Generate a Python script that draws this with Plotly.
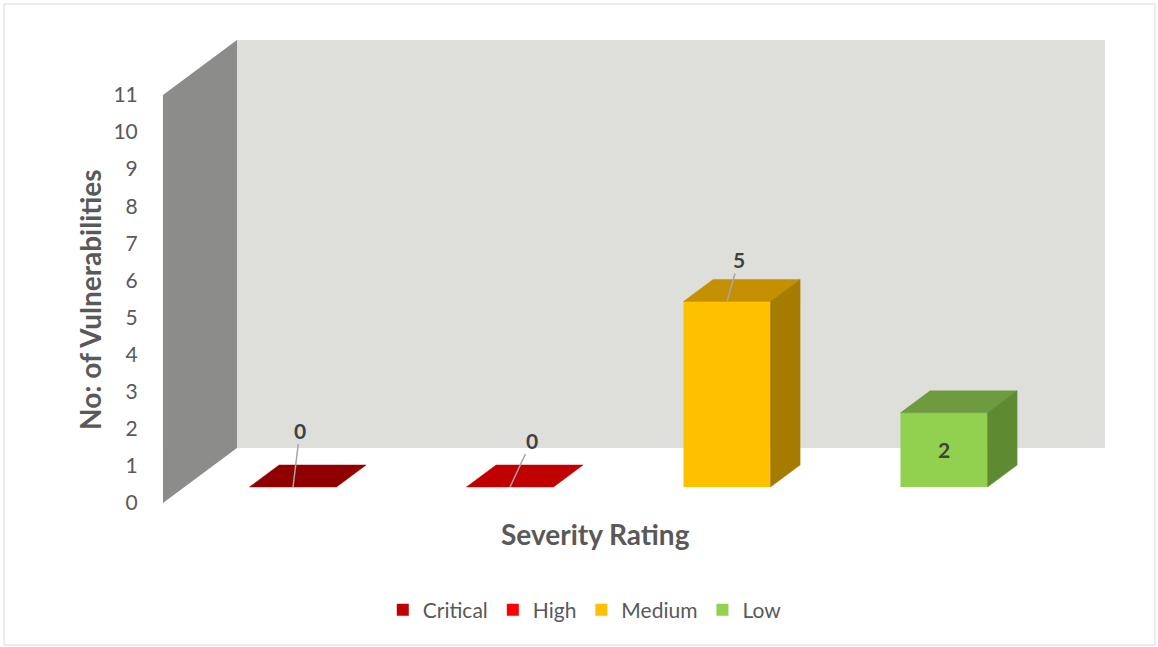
import plotly.graph_objects as go

# ---------------- data ----------------
categories = ["Critical", "High", "Medium", "Low"]
values = [0, 0, 5, 2]
front_colors = ["#C00000", "#FF0000", "#FFC000", "#92D050"]
top_colors = ["#900000", "#C00000", "#C49000", "#6E9B3D"]
side_colors = ["#6F0000", "#A00000", "#A67C00", "#5E8A32"]
y_ticks = list(range(0, 12))
y_max = 11
x_title = "Severity Rating"
y_title = "No: of Vulnerabilities"

# ---------------- geometry (oblique 3D projection) ----------------
W, H = 1158, 647
PX_PER_CAT = 217.0
PX_PER_UNIT = 37.1
X0_PX = 293.0          # pixel x of category 0 (bar front centre)
Y0_PX = 487.0          # pixel y of value 0 at bar front
DEPTH_DX = 74 / PX_PER_CAT   # x-units for full floor depth
DEPTH_DY = 55 / PX_PER_UNIT  # y-units for full floor depth
D_BAR = 16 / 55              # depth of bar front face
BAR_DEPTH = 0.4
BAR_W = 87 / PX_PER_CAT

FONT = "Lato, Calibri, sans-serif"

def proj(x, v, d):
    return x + (d - D_BAR) * DEPTH_DX, v + (d - D_BAR) * DEPTH_DY

xr = [-X0_PX / PX_PER_CAT, (W - X0_PX) / PX_PER_CAT]
yr = [-(H - Y0_PX) / PX_PER_UNIT, Y0_PX / PX_PER_UNIT]
tick_off = D_BAR * DEPTH_DY

def path(pts):
    return "M " + " L ".join(f"{x},{y}" for x, y in pts) + " Z"

fig = go.Figure()

# front faces (bars)
for i, (c, v) in enumerate(zip(categories, values)):
    fig.add_trace(go.Bar(x=[i], y=[v], width=BAR_W, name=c,
                         marker=dict(color=front_colors[i], line=dict(width=0)),
                         hoverinfo="skip"))

# top and side faces
for i, v in enumerate(values):
    l, r = i - BAR_W / 2, i + BAR_W / 2
    d0, d1 = D_BAR, D_BAR + BAR_DEPTH
    top = [proj(l, v, d0), proj(r, v, d0), proj(r, v, d1), proj(l, v, d1), proj(l, v, d0)]
    fig.add_trace(go.Scatter(x=[p[0] for p in top], y=[p[1] for p in top], mode="lines",
                             fill="toself", fillcolor=top_colors[i],
                             line=dict(width=0.5, color=top_colors[i]),
                             showlegend=False, hoverinfo="skip"))
    if v > 0:
        side = [proj(r, 0, d0), proj(r, v, d0), proj(r, v, d1), proj(r, 0, d1), proj(r, 0, d0)]
        fig.add_trace(go.Scatter(x=[p[0] for p in side], y=[p[1] for p in side], mode="lines",
                                 fill="toself", fillcolor=side_colors[i],
                                 line=dict(width=0.5, color=side_colors[i]),
                                 showlegend=False, hoverinfo="skip"))

# invisible trace carrying the value axis
fig.add_trace(go.Scatter(x=[None], y=[None], yaxis="y2", showlegend=False, hoverinfo="skip"))

# walls
xl, xrr = -0.5, len(categories) - 0.5
back = [proj(xl, 0, 1), proj(xrr, 0, 1), proj(xrr, y_max, 1), proj(xl, y_max, 1)]
side_wall = [proj(xl, 0, 0), proj(xl, 0, 1), proj(xl, y_max, 1), proj(xl, y_max, 0)]
shapes = [
    dict(type="path", xref="x", yref="y", path=path(back), fillcolor="#DEDFDA",
         line=dict(width=0), layer="below"),
    dict(type="path", xref="x", yref="y", path=path(side_wall), fillcolor="#8C8C8B",
         line=dict(width=0), layer="below"),
    dict(type="rect", xref="paper", yref="paper", x0=4 / W, x1=1155 / W, y0=2 / H, y1=1 - 4 / H,
         line=dict(color="#D9D9D9", width=1), fillcolor="rgba(0,0,0,0)", layer="below"),
]

# data labels
label_font = dict(family=FONT, size=21, color="#404040")
label_offsets = [(7, -57), (22, -47), (12, -42), None]
annotations = []
for i, v in enumerate(values):
    off = label_offsets[i]
    if off is None:
        annotations.append(dict(x=i, y=v / 2, xref="x", yref="y", text=f"<b>{v}</b>",
                                showarrow=False, font=label_font,
                                xanchor="center", yanchor="middle"))
    else:
        annotations.append(dict(x=i, y=v, xref="x", yref="y", text=f"<b>{v}</b>",
                                showarrow=True, arrowhead=0, arrowwidth=1.5, arrowcolor="#A6A6A6",
                                ax=off[0], ay=off[1], standoff=0, font=label_font))

title_font = dict(family=FONT, size=28, color="#595959")
annotations.append(dict(x=90 / W, y=1 - 300 / H, xref="paper", yref="paper",
                        xanchor="center", yanchor="middle",
                        text=f"<b>{y_title}</b>", textangle=-90, showarrow=False, font=title_font))
annotations.append(dict(x=595 / W, y=1 - 534 / H, xref="paper", yref="paper",
                        xanchor="center", yanchor="middle",
                        text=f"<b>{x_title}</b>", showarrow=False, font=title_font))

wall_x_px = X0_PX + (proj(xl, 0, 0)[0]) * PX_PER_CAT

fig.update_layout(
    width=W, height=H,
    margin=dict(l=0, r=0, t=0, b=0),
    paper_bgcolor="white", plot_bgcolor="white",
    barmode="overlay",
    shapes=shapes,
    annotations=annotations,
    xaxis=dict(range=xr, visible=False, fixedrange=True),
    yaxis=dict(range=yr, visible=False, fixedrange=True),
    yaxis2=dict(range=[yr[0] + tick_off, yr[1] + tick_off], overlaying="y", anchor="free",
                position=wall_x_px / W, side="left", tickvals=y_ticks,
                ticks="outside", ticklen=21, tickcolor="rgba(0,0,0,0)",
                showgrid=False, zeroline=False, showline=False,
                tickfont=dict(family=FONT, size=21, color="#595959")),
    legend=dict(orientation="h", x=0.505, xanchor="center", y=1 - 610 / H, yanchor="middle",
                font=dict(family=FONT, size=21, color="#595959"),
                bgcolor="rgba(0,0,0,0)", itemwidth=30),
    showlegend=True,
)

fig.write_html("out.html")
